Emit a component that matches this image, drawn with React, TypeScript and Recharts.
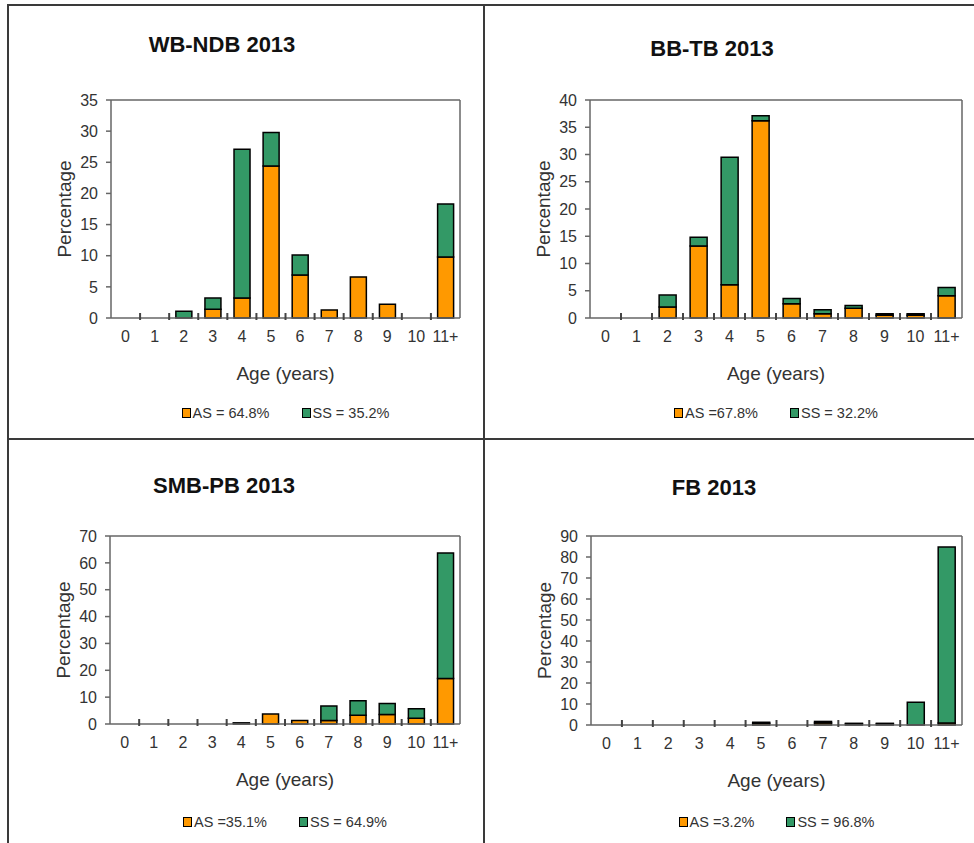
import React from "react";
import { BarChart, Bar, XAxis, YAxis, Legend } from "recharts";

// age classes on the x axis
const ages = ["0", "1", "2", "3", "4", "5", "6", "7", "8", "9", "10", "11+"];

// WB-NDB 2013
const wbAS = [0, 0, 0, 1.4, 3.2, 24.4, 6.9, 1.3, 6.6, 2.2, 0, 9.8];
const wbSS = [0, 0, 1.1, 1.8, 23.9, 5.4, 3.2, 0, 0, 0, 0, 8.5];

// BB-TB 2013
const bbAS = [0, 0, 2.0, 13.2, 6.1, 36.2, 2.6, 0.8, 1.8, 0.5, 0.5, 4.1];
const bbSS = [0, 0, 2.2, 1.6, 23.4, 0.9, 1.0, 0.7, 0.5, 0.3, 0.3, 1.5];

// SMB-PB 2013
const smbAS = [0, 0, 0, 0, 0.3, 3.7, 1.3, 1.3, 3.3, 3.5, 2.1, 16.9];
const smbSS = [0, 0, 0, 0, 0.1, 0, 0, 5.4, 5.4, 4.1, 3.6, 46.8];

// FB 2013
const fbAS = [0, 0, 0, 0, 0, 0.8, 0, 1.0, 0.5, 0.5, 0, 1.0];
const fbSS = [0, 0, 0, 0, 0, 0.5, 0, 0.7, 0.3, 0.3, 10.8, 83.8];

const ticks35 = [0, 5, 10, 15, 20, 25, 30, 35];
const ticks40 = [0, 5, 10, 15, 20, 25, 30, 35, 40];
const ticks70 = [0, 10, 20, 30, 40, 50, 60, 70];
const ticks90 = [0, 10, 20, 30, 40, 50, 60, 70, 80, 90];

const ORANGE = "#FF9900";
const GREEN = "#339966";
const AXIS = "#666666";
const TEXT = "#333333";
const FONT = "'Liberation Sans', Arial, sans-serif";
const TICK_MARGIN = 13;

const rows = (as: number[], ss: number[]) =>
  ages.map((age, i) => ({ age, AS: as[i], SS: ss[i] }));

type PanelProps = {
  title: string;
  titleX: number;
  titleY: number;
  as: number[];
  ss: number[];
  asLabel: string;
  ssLabel: string;
  yTicks: number[];
  chartLeft: number;
  chartTop: number;
  plotLeft: number;
  plotRight: number;
  plotTop: number;
  plotBottom: number;
  legendY: number;
};

function Panel(p: PanelProps) {
  const data = rows(p.as, p.ss);
  const yMax = p.yTicks[p.yTicks.length - 1];
  const legendTop = p.legendY - 12;
  const width = p.plotRight - p.chartLeft + 6;
  const height = legendTop + 24 - p.chartTop;
  const margin = {
    top: p.plotTop - p.chartTop - 1,
    right: width - (p.plotRight - p.chartLeft) - 1,
    left: p.plotLeft - p.chartLeft - 60,
    bottom: 0,
  };
  const band = (p.plotRight - p.plotLeft) / ages.length;

  // label at the category centre, small inside tick at the left boundary
  const renderTick = (t: any) => {
    const ty = Number(t.y);
    const tx = Number(t.x);
    const bx = tx - band / 2;
    const value = String(t.payload && t.payload.value);
    const showMark = value !== "0";
    return (
      <g>
        {showMark ? (
          <rect x={bx - 1} y={ty - TICK_MARGIN - 5} width={2} height={7} fill="#444444" />
        ) : null}
        <text x={tx} y={ty} dy="0.71em" textAnchor="middle" fill={TEXT} fontSize={16} fontFamily={FONT}>
          {value}
        </text>
      </g>
    );
  };

  return (
    <>
      <div
        style={{
          position: "absolute",
          left: p.titleX - 150,
          top: p.titleY - 13,
          width: 300,
          textAlign: "center",
          fontFamily: FONT,
          fontWeight: "bold",
          fontSize: 22,
          lineHeight: "26px",
          color: "#111",
        }}
      >
        {p.title}
      </div>
      <div style={{ position: "absolute", left: p.chartLeft, top: p.chartTop }}>
        <BarChart width={width} height={height} data={data} margin={margin} barCategoryGap="23%">
          <XAxis
            dataKey="age"
            interval={0}
            height={legendTop - p.plotBottom}
            tickSize={0}
            tickMargin={TICK_MARGIN}
            tickLine={false}
            axisLine={{ stroke: AXIS, strokeWidth: 1.5 }}
            tick={renderTick}
            label={{
              value: "Age (years)",
              content: (lp: any) => {
                const vb = lp.viewBox;
                return (
                  <text
                    x={vb.x + vb.width / 2}
                    y={vb.y + 55}
                    dy="0.36em"
                    textAnchor="middle"
                    fill={TEXT}
                    fontSize={19}
                    fontFamily={FONT}
                  >
                    Age (years)
                  </text>
                );
              },
            }}
          />
          <XAxis xAxisId="top" dataKey="age" orientation="top" height={1} tick={false} tickLine={false} axisLine={{ stroke: AXIS, strokeWidth: 1.5 }} />
          <YAxis
            width={60}
            domain={[0, yMax]}
            ticks={p.yTicks}
            interval={0}
            tickSize={5}
            tickMargin={8}
            tickLine={{ stroke: AXIS, strokeWidth: 1.5 }}
            axisLine={{ stroke: AXIS, strokeWidth: 1.5 }}
            tick={{ fill: TEXT, fontSize: 16, fontFamily: FONT }}
            label={{
              value: "Percentage",
              content: (lp: any) => {
                const vb = lp.viewBox;
                const cx = vb.x + vb.width - 40;
                const cy = vb.y + vb.height / 2;
                return (
                  <text
                    x={cx}
                    y={cy}
                    transform={`rotate(-90, ${cx}, ${cy})`}
                    textAnchor="middle"
                    fill={TEXT}
                    fontSize={19}
                    fontFamily={FONT}
                  >
                    Percentage
                  </text>
                );
              },
            }}
          />
          <YAxis
            yAxisId="right"
            orientation="right"
            width={1}
            domain={[0, yMax]}
            ticks={[0, yMax]}
            tick={false}
            tickLine={false}
            axisLine={{ stroke: AXIS, strokeWidth: 1.5 }}
          />
          <Legend
            verticalAlign="bottom"
            wrapperStyle={{ left: p.plotLeft - p.chartLeft, width: p.plotRight - p.plotLeft }}
            content={(lp: any) => (
              <div
                style={{
                  height: 24,
                  display: "flex",
                  justifyContent: "center",
                  alignItems: "center",
                  gap: 32,
                  fontFamily: FONT,
                  fontSize: 14.5,
                  color: TEXT,
                }}
              >
                {(lp.payload || []).map((e: any) => (
                  <span key={e.value} style={{ display: "flex", alignItems: "center" }}>
                    <span
                      style={{
                        display: "inline-block",
                        width: 7,
                        height: 8,
                        background: e.color,
                        border: "1px solid #000",
                        marginRight: 2,
                      }}
                    />
                    {e.value}
                  </span>
                ))}
              </div>
            )}
          />
          <Bar dataKey="AS" name={p.asLabel} stackId="a" fill={ORANGE} stroke="#000" strokeWidth={1.5} isAnimationActive={false} />
          <Bar dataKey="SS" name={p.ssLabel} stackId="a" fill={GREEN} stroke="#000" strokeWidth={1.5} isAnimationActive={false} />
        </BarChart>
      </div>
    </>
  );
}

const line = (left: number, top: number, width: number, height: number) => (
  <div style={{ position: "absolute", left, top, width, height, background: "#3a3a3a" }} />
);

export default function App() {
  return (
    <div style={{ position: "absolute", left: 0, top: 0, width: 974, height: 843, background: "#fff", overflow: "hidden" }}>
      {line(8, 4, 966, 2)}
      {line(7, 4, 2, 839)}
      {line(483, 4, 2, 839)}
      {line(8, 438, 966, 2)}
      <Panel
        title="WB-NDB 2013"
        titleX={222}
        titleY={45}
        as={wbAS}
        ss={wbSS}
        asLabel="AS = 64.8%"
        ssLabel="SS = 35.2%"
        yTicks={ticks35}
        chartLeft={40}
        chartTop={90}
        plotLeft={111}
        plotRight={460}
        plotTop={100}
        plotBottom={318}
        legendY={413}
      />
      <Panel
        title="BB-TB 2013"
        titleX={712}
        titleY={49}
        as={bbAS}
        ss={bbSS}
        asLabel="AS =67.8%"
        ssLabel="SS = 32.2%"
        yTicks={ticks40}
        chartLeft={520}
        chartTop={90}
        plotLeft={590}
        plotRight={962}
        plotTop={100}
        plotBottom={318}
        legendY={413}
      />
      <Panel
        title="SMB-PB 2013"
        titleX={224}
        titleY={486}
        as={smbAS}
        ss={smbSS}
        asLabel="AS =35.1%"
        ssLabel="SS = 64.9%"
        yTicks={ticks70}
        chartLeft={40}
        chartTop={526}
        plotLeft={110}
        plotRight={460}
        plotTop={536}
        plotBottom={724}
        legendY={822}
      />
      <Panel
        title="FB 2013"
        titleX={714}
        titleY={488}
        as={fbAS}
        ss={fbSS}
        asLabel="AS =3.2%"
        ssLabel="SS = 96.8%"
        yTicks={ticks90}
        chartLeft={520}
        chartTop={526}
        plotLeft={591}
        plotRight={962}
        plotTop={536}
        plotBottom={725}
        legendY={822}
      />
    </div>
  );
}
